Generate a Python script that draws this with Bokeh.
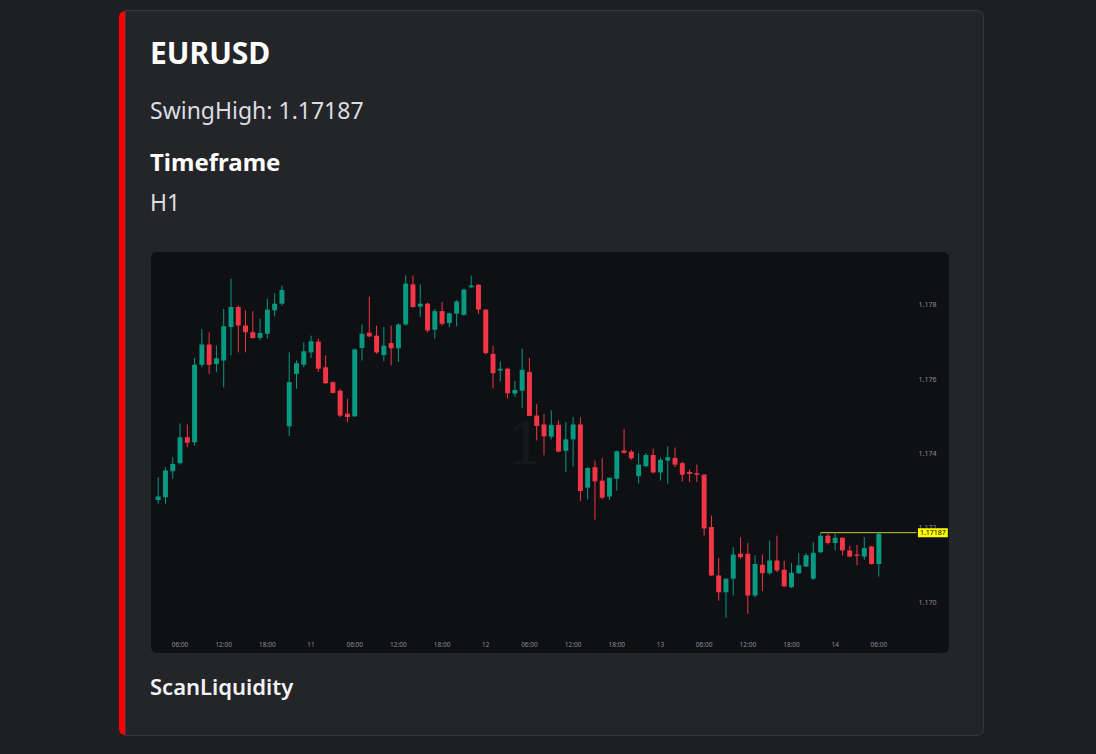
from bokeh.plotting import figure
from bokeh.models import ColumnDataSource, Range1d, FixedTicker, Label, Div, Row, Column
from bokeh.embed import file_html
from bokeh.resources import INLINE

# ---------------- data ----------------
symbol = "EURUSD"
signal_text = "SwingHigh: 1.17187"
field_name = "Timeframe"
timeframe = "H1"
footer_text = "ScanLiquidity"

first_hour = 3  # hour of the first candle (day 10, 03:00)

opens = [1.17275, 1.17282, 1.17352, 1.17374, 1.17444, 1.17430, 1.17639, 1.17693, 1.17641, 1.17650,
         1.17740, 1.17794, 1.17744, 1.17726, 1.17711, 1.17722, 1.17785, 1.17803, 1.17473, 1.17614,
         1.17639, 1.17672, 1.17701, 1.17632, 1.17592, 1.17569, 1.17507, 1.17500, 1.17684, 1.17725,
         1.17717, 1.17665, 1.17697, 1.17683, 1.17747, 1.17855, 1.17795, 1.17803, 1.17733, 1.17783,
         1.17751, 1.17776, 1.17773, 1.17847, 1.17854, 1.17787, 1.17668, 1.17623, 1.17628, 1.17561,
         1.17569, 1.17619, 1.17502, 1.17478, 1.17445, 1.17477, 1.17407, 1.17438, 1.17478, 1.17308,
         1.17363, 1.17327, 1.17284, 1.17332, 1.17408, 1.17405, 1.17339, 1.17366, 1.17396, 1.17349,
         1.17381, 1.17388, 1.17374, 1.17350, 1.17347, 1.17343, 1.17202, 1.17072, 1.17027, 1.17063,
         1.17130, 1.17130, 1.17018, 1.17101, 1.17078, 1.17112, 1.17087, 1.17040, 1.17078, 1.17096,
         1.17063, 1.17134, 1.17179, 1.17159, 1.17173, 1.17139, 1.17128, 1.17123, 1.17150, 1.17103]
highs = [1.17336, 1.17363, 1.17390, 1.17481, 1.17478, 1.17657, 1.17735, 1.17726, 1.17690, 1.17789,
         1.17870, 1.17798, 1.17785, 1.17783, 1.17762, 1.17816, 1.17831, 1.17852, 1.17672, 1.17650,
         1.17699, 1.17717, 1.17709, 1.17664, 1.17594, 1.17574, 1.17547, 1.17682, 1.17747, 1.17822,
         1.17744, 1.17740, 1.17744, 1.17750, 1.17879, 1.17879, 1.17855, 1.17806, 1.17789, 1.17807,
         1.17779, 1.17813, 1.17844, 1.17879, 1.17856, 1.17788, 1.17690, 1.17647, 1.17631, 1.17596,
         1.17682, 1.17657, 1.17533, 1.17506, 1.17516, 1.17489, 1.17484, 1.17498, 1.17498, 1.17364,
         1.17381, 1.17387, 1.17335, 1.17408, 1.17466, 1.17410, 1.17401, 1.17401, 1.17413, 1.17389,
         1.17419, 1.17416, 1.17378, 1.17357, 1.17370, 1.17345, 1.17233, 1.17119, 1.17064, 1.17148,
         1.17175, 1.17159, 1.17126, 1.17128, 1.17166, 1.17179, 1.17112, 1.17105, 1.17132, 1.17132,
         1.17161, 1.17187, 1.17184, 1.17184, 1.17174, 1.17152, 1.17154, 1.17175, 1.17151, 1.17186]
lows = [1.17265, 1.17265, 1.17332, 1.17370, 1.17417, 1.17421, 1.17632, 1.17614, 1.17619, 1.17578,
        1.17664, 1.17672, 1.17672, 1.17709, 1.17704, 1.17709, 1.17769, 1.17798, 1.17447, 1.17574,
        1.17632, 1.17657, 1.17619, 1.17587, 1.17561, 1.17498, 1.17484, 1.17498, 1.17650, 1.17713,
        1.17668, 1.17648, 1.17637, 1.17646, 1.17744, 1.17792, 1.17767, 1.17726, 1.17709, 1.17744,
        1.17740, 1.17742, 1.17771, 1.17846, 1.17776, 1.17666, 1.17575, 1.17594, 1.17548, 1.17552,
        1.17523, 1.17500, 1.17435, 1.17395, 1.17438, 1.17403, 1.17350, 1.17365, 1.17272, 1.17276,
        1.17222, 1.17278, 1.17275, 1.17300, 1.17399, 1.17383, 1.17319, 1.17363, 1.17346, 1.17327,
        1.17318, 1.17363, 1.17325, 1.17323, 1.17323, 1.17179, 1.17070, 1.17004, 1.16958, 1.17018,
        1.17117, 1.16969, 1.17013, 1.17030, 1.17074, 1.17081, 1.17040, 1.17038, 1.17076, 1.17094,
        1.17060, 1.17132, 1.17155, 1.17139, 1.17126, 1.17121, 1.17099, 1.17114, 1.17101, 1.17069]
closes = [1.17284, 1.17354, 1.17372, 1.17444, 1.17429, 1.17639, 1.17693, 1.17639, 1.17656, 1.17742,
          1.17794, 1.17744, 1.17726, 1.17711, 1.17724, 1.17787, 1.17803, 1.17840, 1.17592, 1.17643,
          1.17675, 1.17702, 1.17628, 1.17589, 1.17563, 1.17502, 1.17498, 1.17680, 1.17722, 1.17715,
          1.17672, 1.17690, 1.17683, 1.17747, 1.17857, 1.17794, 1.17803, 1.17731, 1.17783, 1.17749,
          1.17777, 1.17809, 1.17841, 1.17852, 1.17787, 1.17670, 1.17616, 1.17628, 1.17562, 1.17571,
          1.17625, 1.17501, 1.17474, 1.17446, 1.17477, 1.17405, 1.17438, 1.17478, 1.17299, 1.17361,
          1.17325, 1.17281, 1.17335, 1.17406, 1.17402, 1.17387, 1.17370, 1.17396, 1.17349, 1.17383,
          1.17390, 1.17370, 1.17343, 1.17345, 1.17343, 1.17198, 1.17072, 1.17027, 1.17063, 1.17128,
          1.17121, 1.17018, 1.17103, 1.17078, 1.17112, 1.17085, 1.17043, 1.17079, 1.17099, 1.17126,
          1.17133, 1.17179, 1.17159, 1.17173, 1.17139, 1.17123, 1.17125, 1.17146, 1.17103, 1.17184]

price_ticks = [1.170, 1.172, 1.174, 1.176, 1.178]
price_tick_labels = ["1.170", "1.172", "1.174", "1.176", "1.178"]
time_tick_labels = ["06:00", "12:00", "18:00", "11", "06:00", "12:00", "18:00", "12",
                    "06:00", "12:00", "18:00", "13", "06:00", "12:00", "18:00", "14", "06:00"]

swing_high = 1.17187
swing_index = 91
swing_label = "1.17187"

# ---------------- styles ----------------
PAGE_BG = "#1e1f22"
CARD_BG = "#242529"
CHART_BG = "#0e1014"
UP = "#089981"
DOWN = "#f23645"
AXIS_TXT = "#8b8e96"

n = len(opens)
idx = list(range(n))
colors = [UP if c >= o else DOWN for o, c in zip(opens, closes)]
src = ColumnDataSource(dict(
    x=idx, high=highs, low=lows,
    top=[max(o, c) for o, c in zip(opens, closes)],
    bottom=[min(o, c) for o, c in zip(opens, closes)],
    color=colors,
))

X_END = 108.57
p = figure(width=798, height=401,
           x_range=Range1d(-0.92, X_END), y_range=Range1d(1.169184, 1.179407),
           y_axis_location="right", output_backend="svg", toolbar_location=None,
           min_border_left=0, min_border_top=0, min_border_right=1, min_border_bottom=21,
           background_fill_color=None, border_fill_color=None, outline_line_color=None)
p.grid.visible = False

# faint watermark
p.add_layout(Label(x=50.5, y=1.17373, text="1", text_font="DejaVu Serif", text_font_size="58px",
                   text_color="#ffffff", text_alpha=0.035, text_align="center", level="underlay"))

p.segment(x0="x", y0="high", x1="x", y1="low", line_color="color", line_width=1, source=src)
p.vbar(x="x", width=0.68, top="top", bottom="bottom", fill_color="color", line_color=None, source=src)

# swing-high level line, ending where the price tag starts
p.segment(x0=[swing_index], y0=[swing_high], x1=[X_END - 4.4], y1=[swing_high],
          line_color="#c3c83c", line_width=1)

tick_idx = [i for i in idx if (first_hour + i) % 6 == 0]
xa = p.xaxis[0]
xa.ticker = FixedTicker(ticks=tick_idx)
xa.major_label_overrides = {t: s for t, s in zip(tick_idx, time_tick_labels)}
ya = p.yaxis[0]
ya.ticker = FixedTicker(ticks=price_ticks)
ya.major_label_overrides = {t: s for t, s in zip(price_ticks, price_tick_labels)}
for ax in (xa, ya):
    ax.axis_line_color = None
    ax.major_tick_line_color = None
    ax.minor_tick_line_color = None
    ax.major_tick_out = 0
    ax.major_tick_in = 0
    ax.minor_tick_out = 0
    ax.minor_tick_in = 0
    ax.major_label_text_color = AXIS_TXT
    ax.major_label_text_font = "Noto Sans"
ya.major_label_text_font_size = "7px"
xa.major_label_text_font_size = "6.5px"
ya.major_label_standoff = -30
xa.major_label_standoff = 7

p.add_layout(Label(x=X_END - 4.2, y=swing_high, text=swing_label,
                   text_font="Noto Sans", text_font_size="7px", text_color="#000000",
                   text_baseline="middle", text_align="left",
                   background_fill_color="#ffff00", padding=2))

p.margin = (0, 34, 0, 25)
p.styles = {"border-radius": "6px", "overflow": "hidden", "background-color": CHART_BG}


def line(text, top, size, weight, color):
    return (f'<div style="position:absolute;left:24px;top:{top}px;font-family:\'Noto Sans\',sans-serif;'
            f'font-size:{size}px;font-weight:{weight};line-height:1;color:{color};white-space:nowrap;">'
            f'{text}</div>')


header_html = ('<div style="position:relative;width:857px;height:241px;">'
               + line(symbol, 27.4, 30, 700, "#ffffff")
               + line(signal_text, 88.3, 23, 400, "#dbdee1")
               + line(field_name, 139.4, 24, 700, "#ffffff")
               + line(timeframe, 180.0, 23, 400, "#dbdee1")
               + '</div>')
footer_html = ('<div style="position:relative;width:857px;height:82px;">'
               + line(footer_text, 21.5, 22, 600, "#f2f3f5")
               + '</div>')

header = Div(text=header_html, width=857, height=241, margin=0)
footer = Div(text=footer_html, width=857, height=82, margin=0)

card = Column(children=[header, p, footer], spacing=0, margin=0,
              styles={"background-color": CARD_BG, "border-radius": "0 6px 6px 0",
                      "box-shadow": "0 0 0 1px #36383d"})
strip = Div(text="", width=7, height=724, margin=0,
            styles={"background-color": "#ff0000", "border-radius": "6px 0 0 6px"})
root = Row(children=[strip, card], spacing=0, margin=(11, 0, 0, 119))

html = file_html(root, INLINE, title="EURUSD")
html = html.replace("</head>",
                    "<style>html, body { margin: 0 !important; padding: 0 !important; "
                    f"background-color: {PAGE_BG} !important; }}</style></head>", 1)
open("out.html", "w").write(html)
